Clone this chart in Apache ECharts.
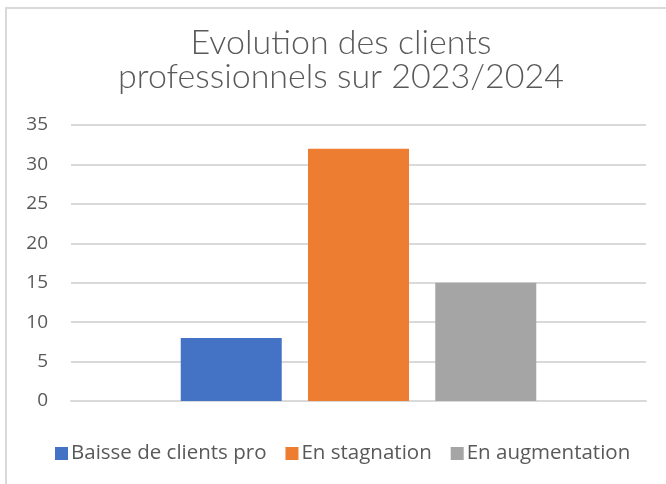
<!DOCTYPE html>
<html>
<head>
<meta charset="utf-8">
<script src="https://cdn.jsdelivr.net/npm/echarts@6/dist/echarts.min.js"></script>
<style>
  html, body { margin:0; padding:0; background:#fff; }
  #chart { width:666px; height:484px; }
  #frame { position:absolute; left:5px; top:7px; width:670px; height:490px; border:2px solid #d9d9d9; box-sizing:border-box; pointer-events:none; }
</style>
</head>
<body>
<div id="chart"></div>
<div id="frame"></div>
<script>
var categories = ['2023/2024'];
var seriesNames = ['Baisse de clients pro', 'En stagnation', 'En augmentation'];
var seriesValues = [[8], [32], [15]];
var colors = ['#4472c4', '#ed7d31', '#a5a5a5'];
var yTicks = { min: 0, max: 35, interval: 5 };

var myChart = echarts.init(document.getElementById('chart'));
var series = seriesNames.map(function (name, i) {
  return {
    name: name,
    type: 'bar',
    barWidth: 101,
    barGap: '26%',
    itemStyle: { color: colors[i] },
    data: seriesValues[i]
  };
});

myChart.setOption({
  color: colors,
  animation: false,
  title: {
    text: 'Evolution des clients\nprofessionnels sur 2023/2024',
    left: 336,
    textAlign: 'center',
    top: 21,
    textStyle: {
      fontFamily: 'Lato',
      fontWeight: 300,
      fontSize: 34,
      lineHeight: 34,
      color: '#595959'
    }
  },
  legend: {
    bottom: 15,
    left: 50,
    itemWidth: 13,
    itemHeight: 13,
    itemGap: 19,
    icon: 'rect',
    textStyle: { fontFamily: 'Open Sans', fontSize: 20.5, color: '#595959', padding: [0, 0, 0, -2] },
    data: seriesNames
  },
  grid: { left: 71, right: 20, top: 125, bottom: 83 },
  xAxis: {
    type: 'category',
    data: categories,
    axisLine: { show: true, lineStyle: { color: '#d9d9d9', width: 2 } },
    axisTick: { show: false },
    axisLabel: { show: false }
  },
  yAxis: {
    type: 'value',
    min: yTicks.min,
    max: yTicks.max,
    interval: yTicks.interval,
    axisLine: { show: false },
    axisTick: { show: false },
    axisLabel: { fontFamily: 'Open Sans', fontSize: 19, color: '#595959', margin: 23 },
    splitLine: { lineStyle: { color: '#d9d9d9', width: 2 } }
  },
  series: series
});
</script>
</body>
</html>
